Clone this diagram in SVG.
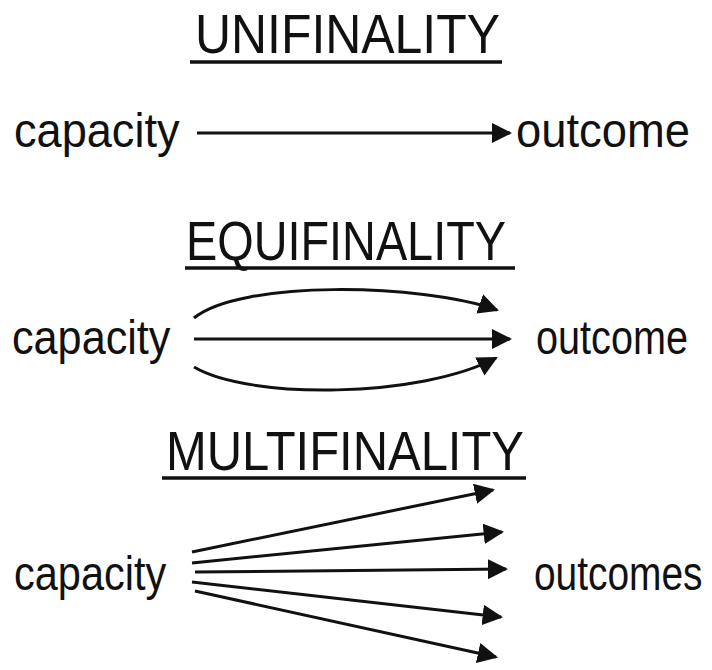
<svg xmlns="http://www.w3.org/2000/svg" width="712" height="670" viewBox="0 0 712 670">
<style>
.t{font-family:"Liberation Sans",Arial,sans-serif;font-size:55px;fill:#111}
.l{font-family:"Liberation Sans",Arial,sans-serif;font-size:48px;fill:#111}
.u{stroke:#111;stroke-width:3.5;fill:none}
.c{stroke:#111;stroke-width:3;fill:none;marker-end:url(#ah)}
</style>
<defs>
<marker id="ah" viewBox="0 0 10 10" refX="9" refY="5" markerWidth="6.8" markerHeight="6.8" orient="auto" markerUnits="strokeWidth">
<path d="M0,0 L10,5 L0,10 Z" fill="#111"/>
</marker>
</defs>
<rect width="712" height="670" fill="#fff"/>
<g id="title-uni"><text class="t" x="195" y="53" textLength="305" lengthAdjust="spacingAndGlyphs">UNIFINALITY</text><line class="u" x1="190" y1="62" x2="502" y2="62"/></g>
<g id="uni-capacity"><text class="l" transform="translate(14,147) scale(0.94,1)">capacity</text></g>
<g id="uni-outcome"><text class="l" transform="translate(516,147) scale(0.945,1)">outcome</text></g>
<g id="title-equi"><text class="t" x="186" y="260" textLength="320" lengthAdjust="spacingAndGlyphs">EQUIFINALITY</text><line class="u" x1="185" y1="268" x2="515" y2="268"/></g>
<g id="equi-capacity"><text class="l" transform="translate(12,354) scale(0.9,1)">capacity</text></g>
<g id="equi-outcome"><text class="l" transform="translate(536,354) scale(0.826,1)">outcome</text></g>
<g id="title-multi"><text class="t" x="166" y="470" textLength="358" lengthAdjust="spacingAndGlyphs">MULTIFINALITY</text><line class="u" x1="162" y1="478" x2="526" y2="478"/></g>
<g id="multi-capacity"><text class="l" transform="translate(14,590) scale(0.865,1)">capacity</text></g>
<g id="multi-outcomes"><text class="l" transform="translate(534,590) scale(0.81,1)">outcomes</text></g>
<g id="connectors">
<path class="c" d="M197,133 L510,133"/>
<path class="c" d="M194,318 C240,280 420,283 497,310"/>
<path class="c" d="M194,339 L510,339"/>
<path class="c" d="M194,367 C250,400 420,398 496,358"/>
<path class="c" d="M192,552 L493,490"/>
<path class="c" d="M192,563 L502,532"/>
<path class="c" d="M195,572 L506,569"/>
<path class="c" d="M192,582 L501,617"/>
<path class="c" d="M195,591 L496,657"/>
</g>
</svg>
